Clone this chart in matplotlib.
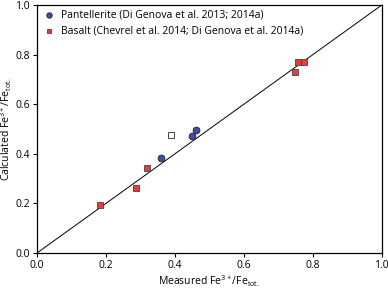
import matplotlib
matplotlib.use("Agg")
import matplotlib.pyplot as plt

plt.rcParams['font.family'] = ['Open Sans', 'DejaVu Sans']
plt.rcParams['mathtext.fontset'] = 'custom'
plt.rcParams['mathtext.rm'] = 'Open Sans'
plt.rcParams['mathtext.it'] = 'Open Sans'

pant_x = [0.360, 0.450, 0.460]
pant_y = [0.384, 0.472, 0.495]
bas_x = [0.184, 0.287, 0.320, 0.747, 0.756, 0.775]
bas_y = [0.195, 0.263, 0.344, 0.731, 0.771, 0.771]
open_x = [0.390]
open_y = [0.475]
ticks = [0.0, 0.2, 0.4, 0.6, 0.8, 1.0]

fig = plt.figure(figsize=(3.88, 2.89), dpi=100)
ax = fig.add_axes([0.0954, 0.1246, 0.8886, 0.858])

ax.plot([0, 1], [0, 1], color='black', lw=0.7, zorder=1)
ax.scatter(pant_x, pant_y, s=24, marker='o', facecolor='#3d4f9f', edgecolor='#222222', lw=0.6, zorder=3,
           label='Pantellerite (Di Genova et al. 2013; 2014a)')
ax.scatter(bas_x, bas_y, s=20, marker='s', facecolor='#ea3a3c', edgecolor='#444444', lw=0.6, zorder=3,
           label='Basalt (Chevrel et al. 2014; Di Genova et al. 2014a)')
ax.scatter(open_x, open_y, s=20, marker='s', facecolor='white', edgecolor='#444444', lw=0.7, zorder=3)

ax.set_xlim(0, 1)
ax.set_ylim(0, 1)
ax.set_xticks(ticks)
ax.set_yticks(ticks)
ax.set_xticklabels([f'{t:.1f}' for t in ticks])
ax.set_yticklabels([f'{t:.1f}' for t in ticks])
ax.tick_params(direction='out', length=3, width=0.8, labelsize=7.5, pad=2)
for s in ax.spines.values():
    s.set_linewidth(0.9)

ax.set_xlabel('Measured Fe$^{3+}$/Fe$_{\\mathrm{tot.}}$', fontsize=7.5, labelpad=2)
ax.set_ylabel('Calculated Fe$^{3+}$/Fe$_{\\mathrm{tot.}}$', fontsize=7.5)
ax.yaxis.set_label_coords(-0.066, 0.5)

ax.legend(loc='upper left', frameon=False, fontsize=7.5, handletextpad=0.5, borderaxespad=0.05,
          labelspacing=0.45, scatterpoints=1, handlelength=1.4, markerscale=0.8)

fig.savefig('out.png', dpi=100)
